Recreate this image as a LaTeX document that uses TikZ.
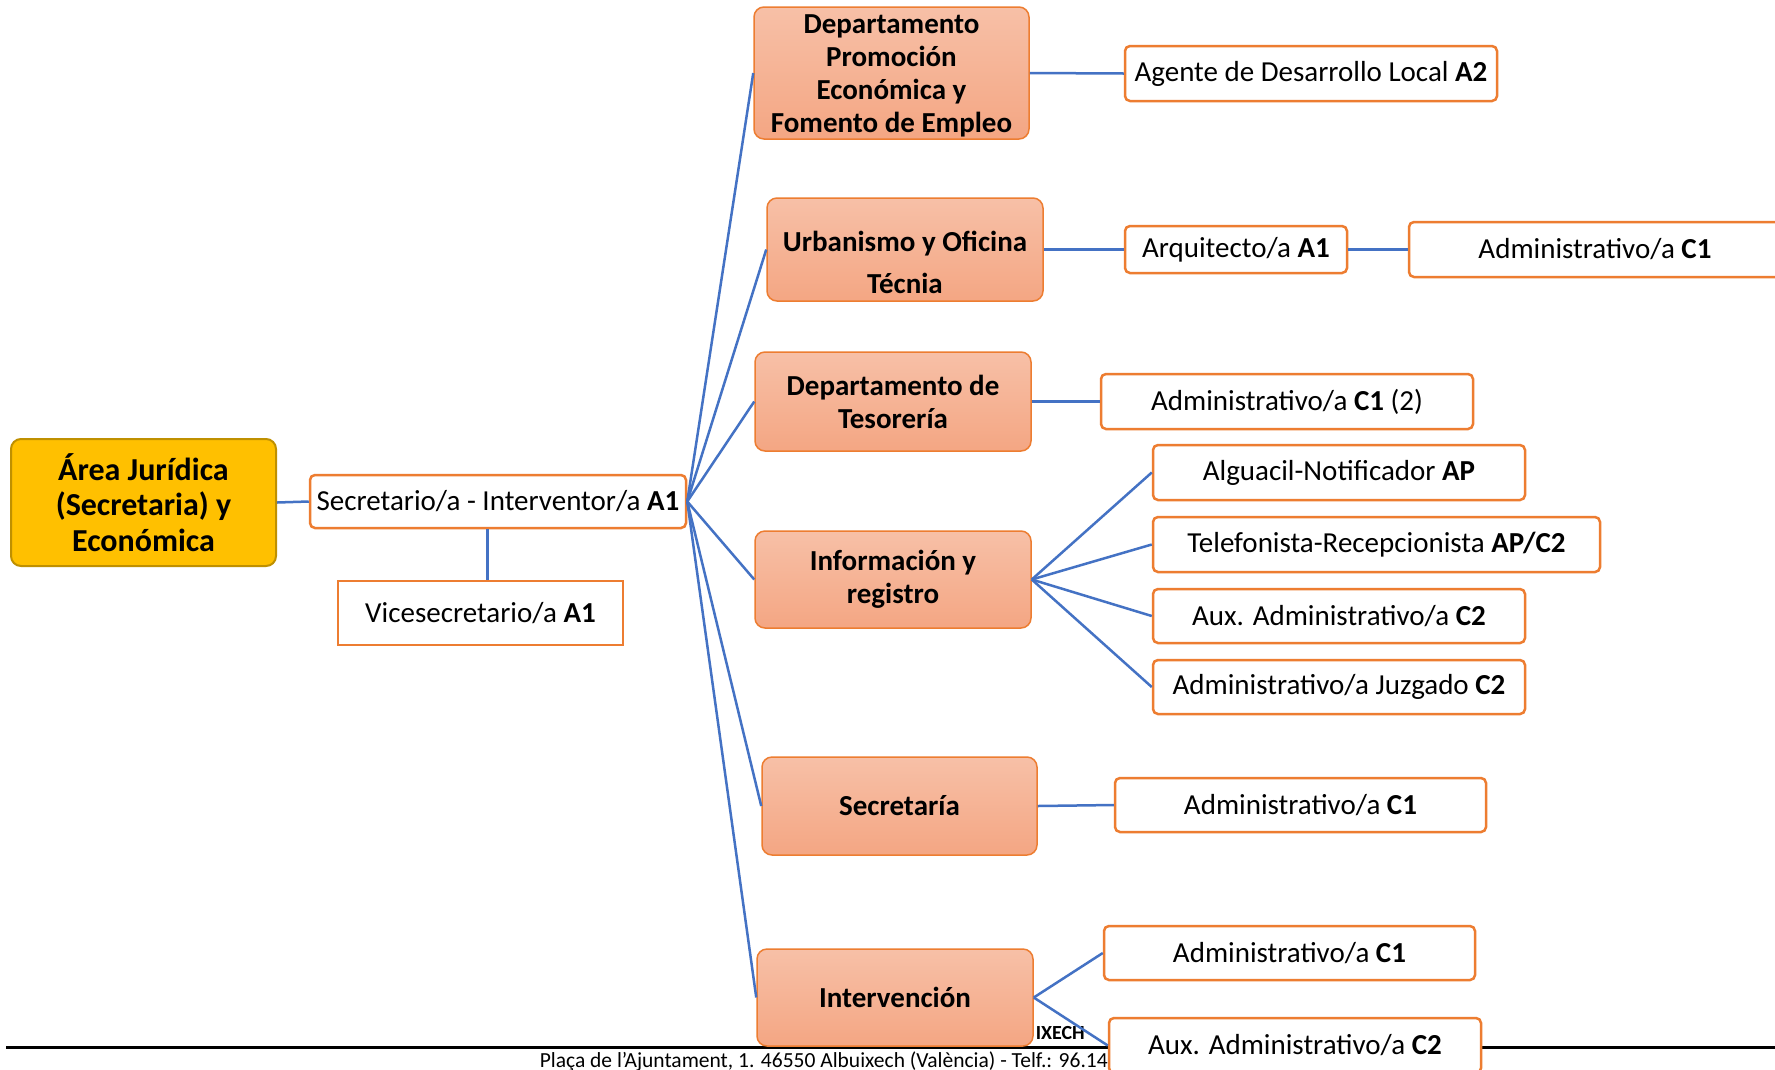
\documentclass[tikz,border=0pt]{standalone}
\usepackage{fontspec}
\setmainfont{Carlito}
\definecolor{boxorange}{RGB}{237,125,49}
\definecolor{connblue}{RGB}{68,114,196}
\definecolor{deptTop}{RGB}{247,192,167}
\definecolor{deptBot}{RGB}{244,166,131}
\definecolor{goldfill}{RGB}{255,192,0}
\definecolor{goldline}{RGB}{191,144,0}
\begin{document}
\begin{tikzpicture}[x=1pt,y=-1pt,
  wbox/.style={draw=boxorange, line width=2.5pt, fill=white, rounded corners=5pt, inner sep=0pt, align=center, font=\fontsize{29}{33}\selectfont},
  sqbox/.style={wbox, rounded corners=0pt},
  dept/.style={draw=boxorange, line width=1.5pt, top color=deptTop, bottom color=deptBot, rounded corners=10pt, inner sep=0pt, align=center, font=\fontsize{29}{33}\selectfont\bfseries},
  depttext/.style={inner sep=0pt, align=center, font=\fontsize{29}{33}\selectfont\bfseries},
  gold/.style={draw=goldline, line width=2pt, fill=goldfill, rounded corners=10pt, inner sep=0pt, align=center, font=\fontsize{32}{35.5}\selectfont\bfseries},
  conn/.style={draw=connblue, line width=2.5pt},
  footer/.style={line width=3pt, draw=black}]
\useasboundingbox (0,0) rectangle (1775,1069);
\clip (0,0) rectangle (1775,1069);
\fill[white] (0,0) rectangle (1775,1069);

% footer
\coordinate (fl) at (6,1047);
\coordinate (fr) at (1775,1047);
\draw[footer] (fl) -- (fr);
\node[anchor=base east, inner sep=0pt, font=\fontsize{21.5}{21.5}\selectfont] (addr) at (1108,1067) {Plaça de l'Ajuntament, 1. 46550 Albuixech (València) - Telf.: 96.14};
\node[anchor=base east, inner sep=0pt, font=\fontsize{20}{20}\selectfont\bfseries] (logo) at (1085,1039) {IXECH};

% nodes
\node[gold, minimum width=265pt, minimum height=127pt] (area) at (143.5,502.5) {Área Jurídica\\(Secretaria) y\\Económica};
\node[wbox, minimum width=376pt, minimum height=53pt] (sec) at (498,501.5) {Secretario/a - Interventor/a \textbf{A1}};
\node[sqbox, minimum width=285pt, minimum height=64pt] (vice) at (480.5,613) {Vicesecretario/a \textbf{A1}};

\node[dept, minimum width=275pt, minimum height=132pt] (prom) at (891.5,73) {};
\node[depttext] (promt) at (891.5,76) {Departamento\\Promoción\\Económica y\\Fomento de Empleo};
\node[dept, minimum width=276pt, minimum height=103pt] (urb) at (905,249.5) {};
\node[depttext, font=\fontsize{29}{42}\selectfont\bfseries] (urbt) at (905,262) {Urbanismo y Oficina\\Técnia};
\node[dept, minimum width=276pt, minimum height=99pt] (teso) at (893,401.5) {Departamento de\\Tesorería};
\node[dept, minimum width=276pt, minimum height=97pt] (info) at (893,579.5) {Información y\\registro};
\node[dept, minimum width=275pt, minimum height=98pt] (secr) at (899.5,806) {Secretaría};
\node[dept, minimum width=276pt, minimum height=97pt] (interv) at (895,997.5) {Intervención};

\node[wbox, minimum width=372pt, minimum height=55pt] (agente) at (1311,73.5) {Agente de Desarrollo Local \textbf{A2}};
\node[wbox, minimum width=222pt, minimum height=47pt] (arq) at (1236,249.5) {Arquitecto/a \textbf{A1}};
\node[wbox, minimum width=372pt, minimum height=55pt] (admu) at (1595,249.5) {Administrativo/a \textbf{C1}};
\node[wbox, minimum width=372pt, minimum height=55pt] (admt) at (1287,401.5) {Administrativo/a \textbf{C1} (2)};
\node[wbox, minimum width=372pt, minimum height=55pt] (alg) at (1339,472.5) {Alguacil-Notificador \textbf{AP}};
\node[wbox, minimum width=447pt, minimum height=55pt] (tel) at (1376.5,544.5) {Telefonista-Recepcionista \textbf{AP/C2}};
\node[wbox, minimum width=372pt, minimum height=54pt] (aux) at (1339,616) {Aux. Administrativo/a \textbf{C2}};
\node[wbox, minimum width=372pt, minimum height=54pt] (juz) at (1339,687) {Administrativo/a Juzgado \textbf{C2}};
\node[wbox, minimum width=371pt, minimum height=54pt] (adms) at (1300.5,805) {Administrativo/a \textbf{C1}};
\node[wbox, minimum width=371pt, minimum height=54pt] (admi) at (1289.5,953) {Administrativo/a \textbf{C1}};
\node[wbox, minimum width=372pt, minimum height=55pt] (auxi) at (1295,1045.5) {Aux. Administrativo/a \textbf{C2}};

% connectors
\draw[conn] (area.east) -- (sec.west);
\draw[conn] ([xshift=7pt]vice.north) -- ([xshift=7pt]vice.north |- sec.south);
\foreach \d in {prom,urb,teso,info,secr,interv}
  \draw[conn] (sec.east) -- (\d.west);
\draw[conn] (prom.east) -- (agente.west);
\draw[conn] (urb.east) -- (arq.west);
\draw[conn] (arq.east) -- (admu.west);
\draw[conn] (teso.east) -- (admt.west);
\foreach \s in {alg,tel,aux,juz}
  \draw[conn] (info.east) -- (\s.west);
\draw[conn] (secr.east) -- (adms.west);
\draw[conn] (interv.east) -- (admi.west);
\draw[conn] (interv.east) -- (auxi.west);
\end{tikzpicture}
\end{document}
